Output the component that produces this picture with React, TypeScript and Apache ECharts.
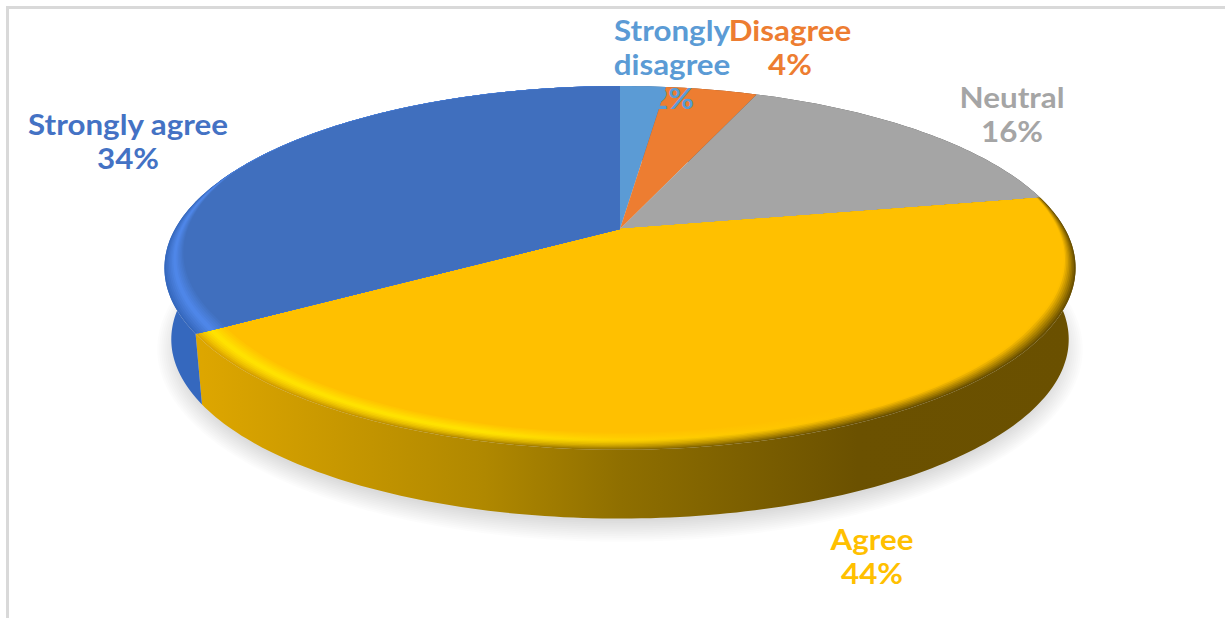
import React, { useEffect, useRef } from "react";
import * as echarts from "echarts";

// Survey responses, in clockwise order from twelve o'clock.
const categories = ["Strongly\ndisagree", "Disagree", "Neutral", "Agree", "Strongly agree"];
const shares = [2, 4, 16, 44, 34];

const faceColors = ["#5B9BD5", "#ED7D31", "#A5A5A5", "#FFC000", "#406FBE"];
const labelColors = ["#5B9BD5", "#ED7D31", "#A5A5A5", "#FFC000", "#4472C4"];
const labelAnchors: number[][] = [
  [672, 64],
  [790, 47],
  [1012, 114],
  [872, 556],
  [128, 141],
];

// Side wall colours per slice, sampled along the horizontal lighting sweep.
const wallStops: string[][] = [
  ["#4A80C0", "#4A80C0", "#3F6E9F", "#2C4E70", "#2C4E70"],
  ["#C06428", "#C06428", "#8E4A1C", "#5E3112", "#5E3112"],
  ["#8A8A8A", "#8A8A8A", "#6C6C6C", "#4A4A4A", "#4A4A4A"],
  ["#E3AA00", "#B08800", "#8F6F00", "#6B5100", "#6A5000"],
  ["#3568BE", "#3568BE", "#3568BE", "#3568BE", "#3568BE"],
];
const sweepOffsets = [0, 0.35, 0.5, 0.76, 1];
const sweepGlow = [1, 1, 0.5, 0, 0];
const rimHighlight = ["", "", "", "#FFE400", "#4F88EC"];

// Perspective tilt of the disc on the page.
const APEX_X = 620;
const APEX_Y = 229;
const RADIUS_X = 445;
const RADIUS_Y = 173.6;
const TILT = 0.214;
const WALL_DROP = 72;
const BASE_SCALE = 0.985;
const RIM_LAYERS = 14;
const RIM_INSET = 0.062;
const SHADOW_LAYERS = 12;

const clamp = (v: number, lo: number, hi: number) => Math.min(hi, Math.max(lo, v));

function project(deg: number, r = 1): number[] {
  const a = (deg * Math.PI) / 180;
  const w = 1 + TILT * r * Math.cos(a);
  return [APEX_X + (RADIUS_X * r * Math.sin(a)) / w, APEX_Y - (RADIUS_Y * r * Math.cos(a)) / w];
}

function projectBase(deg: number): number[] {
  const [x, y] = project(deg);
  return [APEX_X + (x - APEX_X) * BASE_SCALE, APEX_Y + WALL_DROP + (y - APEX_Y) * BASE_SCALE];
}

function arc(from: number, to: number, at: (d: number) => number[]): number[][] {
  const pts: number[][] = [];
  const steps = Math.max(2, Math.ceil(to - from));
  for (let i = 0; i <= steps; i++) pts.push(at(from + ((to - from) * i) / steps));
  return pts;
}

function sliceSpan(index: number): number[] {
  const total = shares.reduce((s, v) => s + v, 0);
  const before = shares.slice(0, index).reduce((s, v) => s + v, 0);
  return [(before / total) * 360, ((before + shares[index]) / total) * 360];
}

function mix(a: string, b: string, t: number): string {
  const ch = (c: string, i: number) => parseInt(c.slice(1 + i * 2, 3 + i * 2), 16);
  const out = [0, 1, 2].map((i) =>
    Math.round(ch(a, i) + (ch(b, i) - ch(a, i)) * t).toString(16).padStart(2, "0")
  );
  return "#" + out.join("");
}

const horizontal = (stops: { offset: number; color: string }[]) =>
  new echarts.graphic.LinearGradient(165, 0, 1076, 0, stops, true);

// The bevel is wide at the front of the disc and thins out towards the back.
function rimWidth(deg: number): number {
  return clamp(0.45 - 1.1 * Math.cos((deg * Math.PI) / 180), 0.06, 1);
}

function renderShadow(params: any) {
  if (params.dataIndex !== 0) return { type: "group", children: [] };
  const children: any[] = [];
  const cy = APEX_Y + WALL_DROP + 40;
  for (let k = 0; k < SHADOW_LAYERS; k++) {
    const grow = 14 - (k * 22) / (SHADOW_LAYERS - 1);
    const points = arc(0, 360, projectBase).map(([x, y]) => [
      APEX_X + (x - APEX_X) * (1 + grow / 450),
      10 + cy + (y - cy) * (1 + grow / 190),
    ]);
    children.push({
      type: "polygon",
      shape: { points },
      style: { fill: "rgba(120,125,145,0.022)" },
    });
  }
  return { type: "group", children };
}

function renderWall(params: any) {
  const i = params.dataIndex;
  const [from, to] = sliceSpan(i);
  const points = [...arc(from, to, (d) => project(d)), ...arc(from, to, projectBase).reverse()];
  return {
    type: "polygon",
    shape: { points },
    style: {
      fill: horizontal(sweepOffsets.map((offset, s) => ({ offset, color: wallStops[i][s] }))),
    },
  };
}

function renderFace(params: any) {
  const i = params.dataIndex;
  const [from, to] = sliceSpan(i);
  const base = faceColors[i];
  if (!rimHighlight[i]) {
    const points = [[APEX_X, APEX_Y], ...arc(from, to, (d) => project(d))];
    return { type: "polygon", shape: { points }, style: { fill: base } };
  }
  // Nested sectors, outermost first, build up the soft bevelled rim.
  const children: any[] = [];
  for (let k = 0; k < RIM_LAYERS; k++) {
    const t = k / (RIM_LAYERS - 1);
    const toWall = Math.pow(clamp(1 - 1.8 * t, 0, 1), 1.1);
    const glow = clamp(1 - Math.abs(t - 0.5) / 0.5, 0, 1);
    const points = [
      [APEX_X, APEX_Y],
      ...arc(from, to, (d) => project(d, 1 - RIM_INSET * t * rimWidth(d))),
    ];
    children.push({
      type: "polygon",
      shape: { points },
      style: {
        fill: horizontal(
          sweepOffsets.map((offset, s) => ({
            offset,
            color: mix(mix(base, wallStops[i][s], toWall), rimHighlight[i], glow * sweepGlow[s]),
          }))
        ),
      },
    });
  }
  return { type: "group", children };
}

function renderLabel(params: any, api: any) {
  const i = params.dataIndex;
  const [x, y] = labelAnchors[i];
  return {
    type: "text",
    x,
    y,
    scaleX: 1.12,
    style: {
      text: `${categories[i]}\n${api.value(0)}%`,
      fill: labelColors[i],
      font: "bold 28px Lato",
      lineHeight: 34,
      textAlign: "center",
      textVerticalAlign: "middle",
    },
  };
}

export default function App() {
  const ref = useRef<HTMLDivElement>(null);

  useEffect(() => {
    document.body.style.margin = "0";
    document.body.style.background = "#ffffff";
    const chart = echarts.init(ref.current as HTMLDivElement, undefined, { renderer: "svg" });
    const data = shares.map((value, i) => ({ value, name: categories[i] }));
    const layer = (name: string, renderItem: any, z: number) => ({
      type: "custom",
      name,
      coordinateSystem: "none",
      renderItem,
      data,
      z,
      silent: true,
      animation: false,
    });
    chart.setOption({
      animation: false,
      backgroundColor: "#ffffff",
      graphic: [
        { type: "rect", shape: { x: 6, y: 6, width: 1219, height: 3 }, style: { fill: "#D9D9D9" }, z: 0 },
        { type: "rect", shape: { x: 6, y: 6, width: 3, height: 612 }, style: { fill: "#D9D9D9" }, z: 0 },
      ],
      series: [
        layer("shadow", renderShadow, 1),
        layer("wall", renderWall, 2),
        layer("face", renderFace, 3),
        layer("labels", renderLabel, 4),
      ],
    });
    return () => chart.dispose();
  }, []);

  return <div ref={ref} style={{ position: "fixed", left: 0, top: 0, width: 1225, height: 618 }} />;
}
